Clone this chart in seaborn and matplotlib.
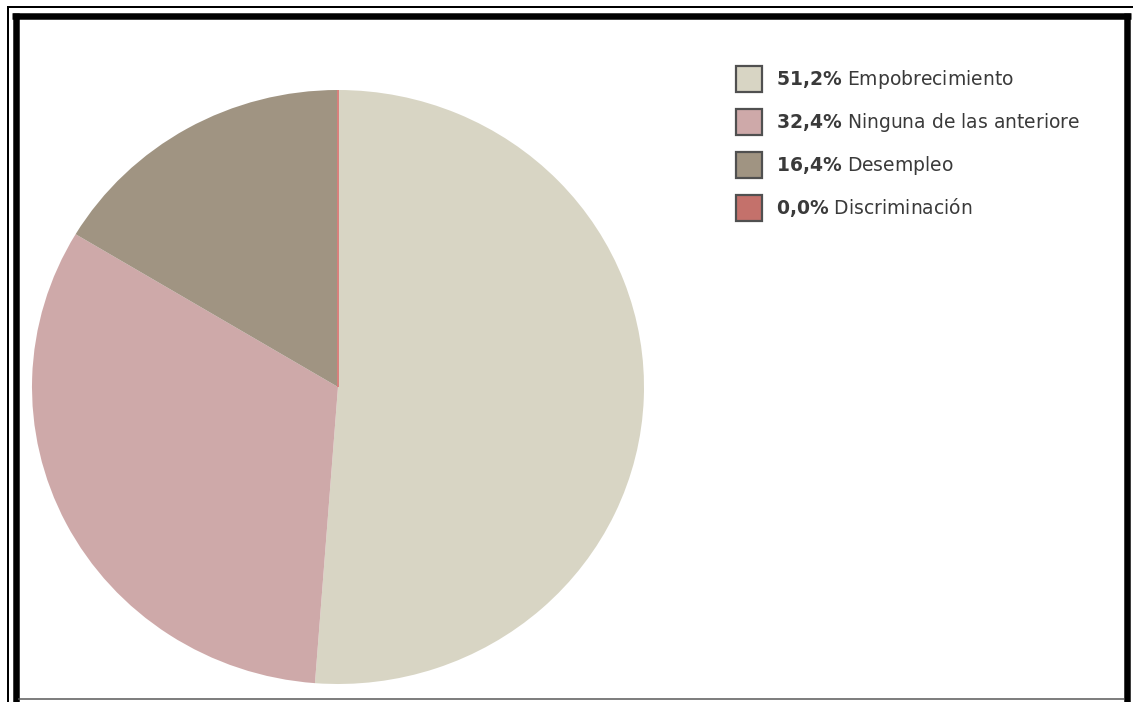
import matplotlib
matplotlib.use("Agg")
import matplotlib.pyplot as plt
from matplotlib.patches import Patch
from matplotlib.lines import Line2D
import seaborn as sns

# Survey shares (percent)
categories = ["Empobrecimiento", "Ninguna de las anteriore", "Desempleo", "Discriminación"]
shares = [51.2, 32.4, 16.4, 0.0]
colors = ["#D8D5C4", "#CEA9A9", "#A09482", "#C4716B"]

sns.set_theme(style="white")
plt.rcParams["font.family"] = ["DejaVu Sans"]

W, H = 1133, 702
DPI = 100
fig = plt.figure(figsize=(W / DPI, H / DPI), dpi=DPI)
fig.patch.set_facecolor("white")


def fx(px):
    return px / W


def fy(py):
    return 1 - py / H


# Pie occupies a slightly wide ellipse
cx, cy, rx, ry = 338, 387, 306, 297
ax = fig.add_axes([fx(cx - rx), fy(cy + ry), 2 * rx / W, 2 * ry / H])
wedges, _ = ax.pie(
    shares,
    colors=colors,
    startangle=90,
    counterclock=False,
    radius=1.0,
    wedgeprops=dict(linewidth=0, antialiased=True),
)
# zero-share slice shows up as a thin coloured ray
wedges[-1].set_edgecolor("#D9807C")
wedges[-1].set_linewidth(1.4)
ax.set_aspect("auto")
ax.set_xlim(-1, 1)
ax.set_ylim(-1, 1)
ax.axis("off")

# Legend: bold percentage followed by category name
labels = []
for name, v in zip(categories, shares):
    pct = f"{v:.1f}".replace(".", "{,}")
    labels.append(r"$\mathbf{" + pct + r"\%}$ " + name)
handles = [Patch(facecolor=c, edgecolor="#505050", linewidth=1.6) for c in colors]
leg = fig.legend(
    handles,
    labels,
    loc="upper left",
    bbox_to_anchor=(fx(736), fy(66)),
    bbox_transform=fig.transFigure,
    frameon=False,
    fontsize=13.5,
    handlelength=1.4,
    handleheight=1.76,
    handletextpad=0.72,
    labelspacing=0.9,
    borderpad=0,
    borderaxespad=0,
)
for t in leg.get_texts():
    t.set_color("#3a3a3a")

# Page frame: thin outer line, thick black border, thin inner base line
def hline(y, x0, x1, lw, color):
    fig.add_artist(Line2D([fx(x0), fx(x1)], [fy(y), fy(y)], transform=fig.transFigure,
                          lw=lw, color=color, solid_capstyle="butt"))


def vline(x, y0, y1, lw, color):
    fig.add_artist(Line2D([fx(x), fx(x)], [fy(y0), fy(y1)], transform=fig.transFigure,
                          lw=lw, color=color, solid_capstyle="butt"))


px = 72 / DPI
vline(7.5, 6, 702, 2 * px, "black")
hline(6.5, 7, 1133, 2 * px, "black")
vline(15.5, 13, 702, 6.5 * px, "black")
hline(16, 12, 1131, 6.5 * px, "black")
vline(1127, 13, 702, 6.5 * px, "black")
hline(698.5, 18, 1124, 1.5 * px, "#555555")

fig.savefig("out.png", dpi=DPI, facecolor="white")
